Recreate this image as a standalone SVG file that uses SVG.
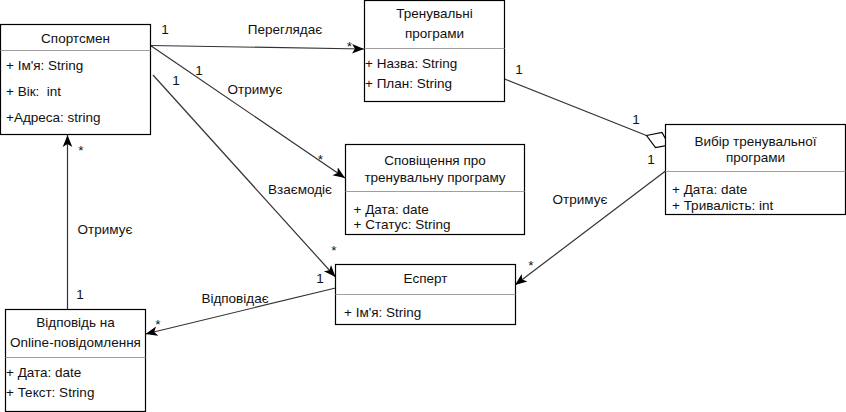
<svg xmlns="http://www.w3.org/2000/svg" width="846" height="412" viewBox="0 0 846 412">
<style>
text{font-family:"Liberation Sans",Arial,sans-serif;font-size:13.5px;fill:#111;white-space:pre}
.c{text-anchor:middle}
.box{fill:#fff;stroke:#000;stroke-width:1.2}
.sep{stroke:#a0a0a0;stroke-width:1}
.ln{stroke:#333;stroke-width:1.2;fill:none}
</style>
<defs>
<marker id="arr" markerUnits="userSpaceOnUse" markerWidth="12" markerHeight="12" viewBox="0 0 10 10" refX="10" refY="5" orient="auto">
<path d="M0,1 L10,5 L0,9 L2.5,5 z" fill="#000"/>
</marker>
</defs>
<g id="connectors">
<line class="ln" x1="150.5" y1="45.5" x2="364" y2="49" marker-end="url(#arr)"/>
<line class="ln" x1="150.5" y1="45.5" x2="345" y2="178" marker-end="url(#arr)"/>
<line class="ln" x1="153" y1="75" x2="335.5" y2="277" marker-end="url(#arr)"/>
<line class="ln" x1="67.5" y1="309.5" x2="67.5" y2="135" marker-end="url(#arr)"/>
<line class="ln" x1="335.5" y1="288" x2="145.5" y2="334" marker-end="url(#arr)"/>
<line class="ln" x1="665.5" y1="171" x2="515" y2="285" marker-end="url(#arr)"/>
<line class="ln" x1="504.5" y1="79" x2="646.5" y2="135.5"/>
<polygon points="646.5,135.5 662,132.5 669,145 655.5,147.5" fill="#fff" stroke="#000" stroke-width="1.2"/>
<text x="165" y="34" class="c">1</text>
<text x="285" y="34" class="c">Переглядає</text>
<text x="349.5" y="50.5" class="c">*</text>
<text x="199" y="75" class="c">1</text>
<text x="255" y="94" class="c">Отримує</text>
<text x="320.5" y="164" class="c">*</text>
<text x="176" y="85" class="c">1</text>
<text x="300" y="194" class="c">Взаємодіє</text>
<text x="334" y="254.5" class="c">*</text>
<text x="320" y="283" class="c">1</text>
<text x="81" y="154.5" class="c">*</text>
<text x="105" y="234" class="c">Отримує</text>
<text x="80" y="299" class="c">1</text>
<text x="235" y="302.5" class="c">Відповідає</text>
<text x="158" y="328.5" class="c">*</text>
<text x="519" y="74" class="c">1</text>
<text x="636" y="124" class="c">1</text>
<text x="651" y="164" class="c">1</text>
<text x="580" y="204" class="c">Отримує</text>
<text x="531" y="269.5" class="c">*</text>
</g>
<g id="sportsmen">
<rect class="box" x="0.5" y="24.5" width="150" height="110"/>
<line class="sep" x1="0.5" y1="50.5" x2="150.5" y2="50.5"/>
<text x="75.5" y="42.5" class="c">Спортсмен</text>
<text x="6" y="70">+ Ім'я: String</text>
<text x="6" y="96" xml:space="preserve">+ Вік:  int</text>
<text x="6" y="121.5">+Адреса: string</text>
</g>
<g id="programs">
<rect class="box" x="364.5" y="0.5" width="140" height="101"/>
<line class="sep" x1="364.5" y1="48.5" x2="504.5" y2="48.5"/>
<text x="434.5" y="18" class="c">Тренувальні</text>
<text x="434.5" y="38" class="c">програми</text>
<text x="365" y="68">+ Назва: String</text>
<text x="365" y="87.5">+ План: String</text>
</g>
<g id="choice">
<rect class="box" x="665.5" y="124.5" width="180" height="90"/>
<line class="sep" x1="665.5" y1="171.5" x2="845.5" y2="171.5"/>
<text x="755.5" y="145.5" class="c">Вибір тренувальної</text>
<text x="755.5" y="161.5" class="c">програми</text>
<text x="672" y="194">+ Дата: date</text>
<text x="672" y="210">+ Тривалість: int</text>
</g>
<g id="notification">
<rect class="box" x="345.5" y="144.5" width="179" height="90"/>
<line class="sep" x1="345.5" y1="191.5" x2="524.5" y2="191.5"/>
<text x="435" y="165" class="c">Сповіщення про</text>
<text x="435" y="181.5" class="c">тренувальну програму</text>
<text x="353.5" y="214">+ Дата: date</text>
<text x="353.5" y="229">+ Статус: String</text>
</g>
<g id="expert">
<rect class="box" x="335.5" y="264.5" width="180" height="60"/>
<line class="sep" x1="335.5" y1="294.5" x2="515.5" y2="294.5"/>
<text x="425.5" y="283" class="c">Есперт</text>
<text x="344" y="316.5">+ Ім'я: String</text>
</g>
<g id="answer">
<rect class="box" x="5.5" y="309.5" width="140" height="102"/>
<line class="sep" x1="5.5" y1="357.5" x2="145.5" y2="357.5"/>
<text x="75.5" y="327" class="c">Відповідь на</text>
<text x="75.5" y="347" class="c">Online-повідомлення</text>
<text x="6" y="376.5">+ Дата: date</text>
<text x="6" y="396.5">+ Текст: String</text>
</g>
</svg>
